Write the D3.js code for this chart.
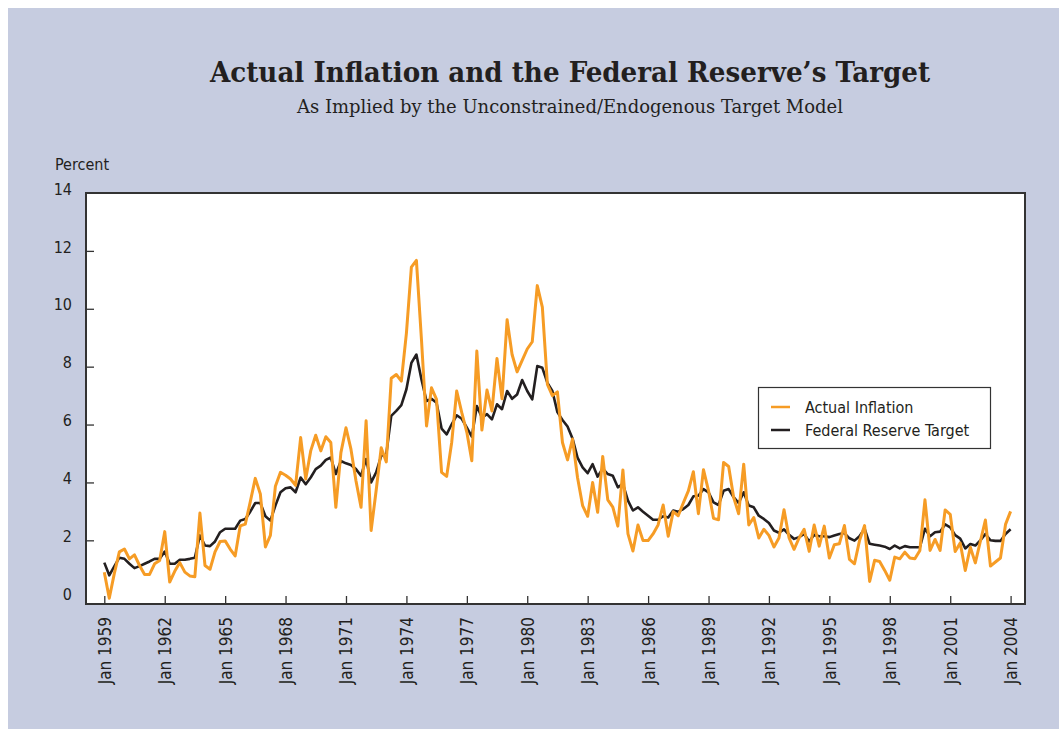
<!DOCTYPE html>
<html><head><meta charset="utf-8">
<script src="https://cdn.jsdelivr.net/npm/d3@7"></script>
<style>body{margin:0;background:#fff}svg{display:block}</style>
</head><body>
<svg id="c" width="1059" height="729"></svg>
<script>
const startYear = 1959;
const endYear = 2004;
const tickYears = [1959,1962,1965,1968,1971,1974,1977,1980,1983,1986,1989,1992,1995,1998,2001,2004];
const yTicks = [0,2,4,6,8,10,12,14];
const seriesNames = ["Actual Inflation", "Federal Reserve Target"];
const actualInflation = [
0.9,0.0,0.85,1.6,1.7,1.36,1.5,1.13,0.82,0.82,
1.19,1.3,2.3,0.56,0.93,1.23,0.9,0.77,0.74,2.94,
1.13,1.0,1.6,1.96,1.98,1.7,1.46,2.5,2.56,3.33,
4.14,3.6,1.77,2.17,3.87,4.35,4.25,4.12,3.9,5.55,
4.12,5.09,5.63,5.09,5.58,5.38,3.14,5.03,5.89,5.15,
4.06,3.14,6.13,2.34,3.72,5.2,4.71,7.6,7.73,7.5,
9.16,11.44,11.67,8.93,5.95,7.27,6.87,4.35,4.21,5.38,
7.16,6.41,5.73,4.75,8.54,5.81,7.19,6.47,8.28,6.89,
9.62,8.42,7.82,8.22,8.61,8.86,10.8,10.06,7.39,7.0,
7.13,5.38,4.78,5.5,4.17,3.2,2.83,4.0,2.97,4.9,
3.4,3.15,2.49,4.43,2.22,1.63,2.53,1.99,1.99,2.22,
2.53,3.22,2.14,2.99,2.85,3.29,3.71,4.37,2.92,4.44,
3.71,2.76,2.71,4.69,4.55,3.49,2.92,4.63,2.53,2.79,
2.08,2.38,2.17,1.77,2.08,3.06,2.08,1.69,2.08,2.38,
1.62,2.53,1.8,2.49,1.39,1.85,1.88,2.51,1.34,1.19,
1.99,2.51,0.58,1.31,1.27,0.96,0.62,1.42,1.36,1.59,
1.39,1.36,1.65,3.4,1.65,2.03,1.65,3.05,2.9,1.61,
1.91,0.96,1.76,1.22,1.96,2.7,1.11,1.25,1.39,2.55,3.0
];
const fedTarget = [
1.23,0.79,1.1,1.4,1.36,1.19,1.04,1.11,1.19,1.27,
1.36,1.36,1.61,1.19,1.19,1.33,1.33,1.36,1.4,2.17,
1.82,1.8,1.96,2.28,2.4,2.4,2.4,2.68,2.74,2.99,
3.29,3.29,2.83,2.68,3.2,3.66,3.8,3.83,3.66,4.17,
3.94,4.17,4.46,4.58,4.78,4.86,4.29,4.74,4.66,4.6,
4.46,4.23,4.81,4.0,4.35,4.92,4.98,6.3,6.47,6.67,
7.22,8.13,8.42,7.56,6.81,6.89,6.75,5.86,5.66,6.01,
6.32,6.2,5.89,5.58,6.64,6.24,6.36,6.18,6.7,6.53,
7.16,6.89,7.04,7.54,7.16,6.87,8.02,7.96,7.44,7.16,
6.43,6.16,5.93,5.52,4.86,4.52,4.32,4.63,4.2,4.48,
4.29,4.23,3.83,3.95,3.37,3.03,3.14,2.99,2.85,2.71,
2.71,2.83,2.79,3.03,2.99,3.08,3.22,3.52,3.54,3.77,
3.66,3.31,3.22,3.71,3.77,3.49,3.29,3.66,3.2,3.14,
2.85,2.74,2.6,2.34,2.26,2.38,2.19,2.05,2.11,2.22,
1.96,2.19,2.14,2.14,2.11,2.17,2.22,2.25,2.07,1.99,
2.14,2.4,1.88,1.85,1.82,1.78,1.7,1.82,1.72,1.8,
1.76,1.76,1.76,2.4,2.14,2.28,2.3,2.55,2.45,2.18,
2.06,1.72,1.87,1.82,2.0,2.22,2.0,1.98,1.98,2.22,2.38
];
const quarterDates = actualInflation.map((_, i) => new Date(startYear, i * 3, 1));

const svg = d3.select("#c");
const sans = "'DejaVu Sans', sans-serif";
const serif = "'DejaVu Serif', serif";

svg.append("rect").attr("x", 8).attr("y", 8).attr("width", 1051).attr("height", 721).attr("fill", "#C6CCE0");

const L = 86, R = 1025, T = 193, B = 604;
const x = d3.scaleTime().domain([new Date(startYear,0,1), new Date(endYear,0,1)]).range([104.3, 1010.6]);
const y = d3.scaleLinear().domain([-0.2, 14]).range([B, T]);

svg.append("rect").attr("x", L).attr("y", T).attr("width", R - L).attr("height", B - T).attr("fill", "#fff");

// titles
svg.append("text").attr("x", 570).attr("y", 82).attr("text-anchor", "middle")
  .attr("font-family", serif).attr("font-weight", "bold").attr("font-size", 28)
  .attr("font-stretch", "condensed").attr("fill", "#231F20")
  .attr("textLength", 720).attr("lengthAdjust", "spacingAndGlyphs")
  .text("Actual Inflation and the Federal Reserve\u2019s Target");
svg.append("text").attr("x", 570).attr("y", 113).attr("text-anchor", "middle")
  .attr("font-family", serif).attr("font-size", 18)
  .attr("font-stretch", "condensed").attr("fill", "#231F20")
  .attr("textLength", 546).attr("lengthAdjust", "spacingAndGlyphs")
  .text("As Implied by the Unconstrained/Endogenous Target Model");
svg.append("text").attr("x", 55).attr("y", 170)
  .attr("font-family", sans).attr("font-size", 16).attr("font-stretch", "condensed").attr("fill", "#231F20")
  .text("Percent");

// lines
const line = d3.line().x((d, i) => x(quarterDates[i])).y(d => y(d));
svg.append("path").datum(fedTarget).attr("d", line).attr("fill", "none")
  .attr("stroke", "#231F20").attr("stroke-width", 2.6).attr("stroke-linejoin", "round");
svg.append("path").datum(actualInflation).attr("d", line).attr("fill", "none")
  .attr("stroke", "#F69C25").attr("stroke-width", 3).attr("stroke-linejoin", "round");

// y axis
const ya = svg.append("g").attr("transform", `translate(${L},0)`)
  .call(d3.axisLeft(y).tickValues(yTicks).tickSizeInner(-8).tickSizeOuter(0).tickPadding(14).tickFormat(d3.format("d")));
ya.select(".domain").remove();
ya.selectAll(".tick line").attr("stroke", "#333").attr("stroke-width", 1.3)
  .filter(d => d === 0 || d === 14).remove();
ya.selectAll(".tick text").attr("font-family", sans).attr("font-size", 16).attr("font-stretch", "condensed")
  .attr("fill", "#231F20").attr("transform", "translate(0,-4)");

// x axis
const xa = svg.append("g").attr("transform", `translate(0,${B})`)
  .call(d3.axisBottom(x).tickValues(tickYears.map(yr => new Date(yr,0,1))).tickSizeInner(-8).tickSizeOuter(0)
    .tickFormat(d => "Jan " + d.getFullYear()));
xa.select(".domain").remove();
xa.selectAll(".tick line").attr("stroke", "#333").attr("stroke-width", 1.3);
xa.selectAll(".tick text").attr("font-family", sans).attr("font-size", 17).attr("font-stretch", "condensed")
  .attr("fill", "#231F20").attr("transform", "rotate(-90)").attr("text-anchor", "end")
  .attr("x", -13).attr("y", 0).attr("dy", "0.35em");

// border
svg.append("rect").attr("x", L).attr("y", T).attr("width", R - L).attr("height", B - T)
  .attr("fill", "none").attr("stroke", "#333").attr("stroke-width", 2);

// legend
const lg = svg.append("g");
lg.append("rect").attr("x", 758.5).attr("y", 387.5).attr("width", 232).attr("height", 61)
  .attr("fill", "#fff").attr("stroke", "#333").attr("stroke-width", 1.2);
const colors = ["#F69C25", "#231F20"];
seriesNames.forEach((name, k) => {
  const yy = 407 + k * 23;
  lg.append("line").attr("x1", 771).attr("x2", 790).attr("y1", yy).attr("y2", yy)
    .attr("stroke", colors[k]).attr("stroke-width", 2.5);
  lg.append("text").attr("x", 805).attr("y", yy + 6).attr("font-family", sans).attr("font-size", 16)
    .attr("font-stretch", "condensed").attr("fill", "#231F20").text(name);
});
</script>
</body></html>
